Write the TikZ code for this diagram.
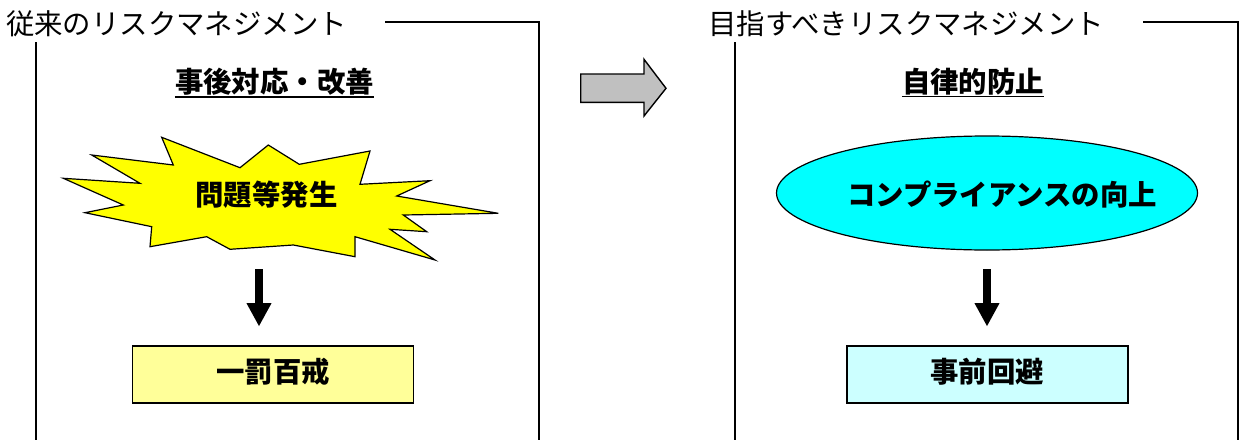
\documentclass[tikz,border=0pt]{standalone}
\usepackage{fontspec}
\newfontfamily\jp{Noto Sans CJK JP}
\usetikzlibrary{arrows.meta}
\definecolor{burst}{HTML}{FFFF00}
\definecolor{lyellow}{HTML}{FFFF99}
\definecolor{cyanfill}{HTML}{00FFFF}
\definecolor{lcyan}{HTML}{CCFFFF}
\definecolor{arrowgray}{HTML}{C0C0C0}
\tikzset{
  frame/.style={line width=1.6pt, black},
  titletext/.style={font=\jp\fontsize{28.4}{30}\selectfont, inner sep=0pt},
  subtext/.style={font=\jp\bfseries\fontsize{28.4}{30}\selectfont, inner sep=0pt},
  boldtext/.style={font=\jp\bfseries\fontsize{28.4}{30}\selectfont, inner sep=0pt},
  resultbox/.style={draw, line width=1.6pt, minimum width=281pt, minimum height=57pt, inner sep=0pt},
  resulttext/.style={font=\jp\bfseries\fontsize{28.4}{30}\selectfont, inner sep=0pt},
  downarrow/.style={line width=8pt, -{Triangle[width=23.5pt,length=23.5pt]}},
  ulined/.style={line width=1.4pt}
}
\begin{document}
\begin{tikzpicture}[x=1pt,y=-1pt]
\useasboundingbox (0,0) rectangle (1241,439);
% ---------- left panel ----------
\node[titletext] (t1) at (176.5,24) {従来のリスクマネジメント};
\draw[frame] (385,22) -- (539,22) -- (539,440);
\draw[frame] (36,42) -- (36,440);
\node[subtext] (s1) at (274.5,82) {事後対応・改善};
\draw[ulined] ([yshift=-1pt]s1.south west) -- ([yshift=-1pt]s1.south east);
\draw[line width=1.2pt, fill=burst, line join=miter]
  (161.7,137.3) -- (240,167.7) -- (268.3,145) -- (299.3,164.3) -- (370,151) --
  (360,184.3) -- (430,180.7) -- (396.7,196) -- (498.3,213.3) -- (403.3,215) --
  (426.7,231.7) -- (390,229.3) -- (435,260) -- (355,236.7) -- (355,256.7) --
  (293.3,245) -- (230,249.3) -- (206.7,236.7) -- (150,246.7) -- (151.7,226.7) --
  (85,212.7) -- (123.3,205) -- (63.3,178.3) -- (140,183.3) -- (91.7,155) --
  (173.3,165) -- cycle;
\node[boldtext] (p1) at (266.5,195) {問題等発生};
\coordinate (a1s) at (259,269);
\coordinate (a1e) at (259,326.5);
\draw[downarrow] (a1s) -- (a1e);
\node[resultbox, fill=lyellow] (b1) at (273,374.5) {};
\node[resulttext] (b1t) at (273,372) {一罰百戒};
% ---------- middle arrow ----------
\draw[line width=1.4pt, fill=arrowgray, line join=miter]
  (580.7,74) -- (644,74) -- (644,59.3) -- (666,88.3) -- (644,116) -- (644,102.3) -- (580.7,102.3) -- cycle;
% ---------- right panel ----------
\node[titletext] (t2) at (906,24) {目指すべきリスクマネジメント};
\draw[frame] (1143,22) -- (1238,22) -- (1238,440);
\draw[frame] (735,42) -- (735,440);
\node[subtext] (s2) at (973,82) {自律的防止};
\draw[ulined] ([yshift=-1pt]s2.south west) -- ([yshift=-1pt]s2.south east);
\draw[line width=1.2pt, fill=cyanfill] (987,193) ellipse [x radius=210.5pt, y radius=57pt];
\node[boldtext] (p2) at (1002,195) {コンプライアンスの向上};
\coordinate (a2s) at (987,269);
\coordinate (a2e) at (987,326.5);
\draw[downarrow] (a2s) -- (a2e);
\node[resultbox, fill=lcyan] (b2) at (987.2,374.5) {};
\node[resulttext] (b2t) at (987.2,372) {事前回避};
\end{tikzpicture}
\end{document}
